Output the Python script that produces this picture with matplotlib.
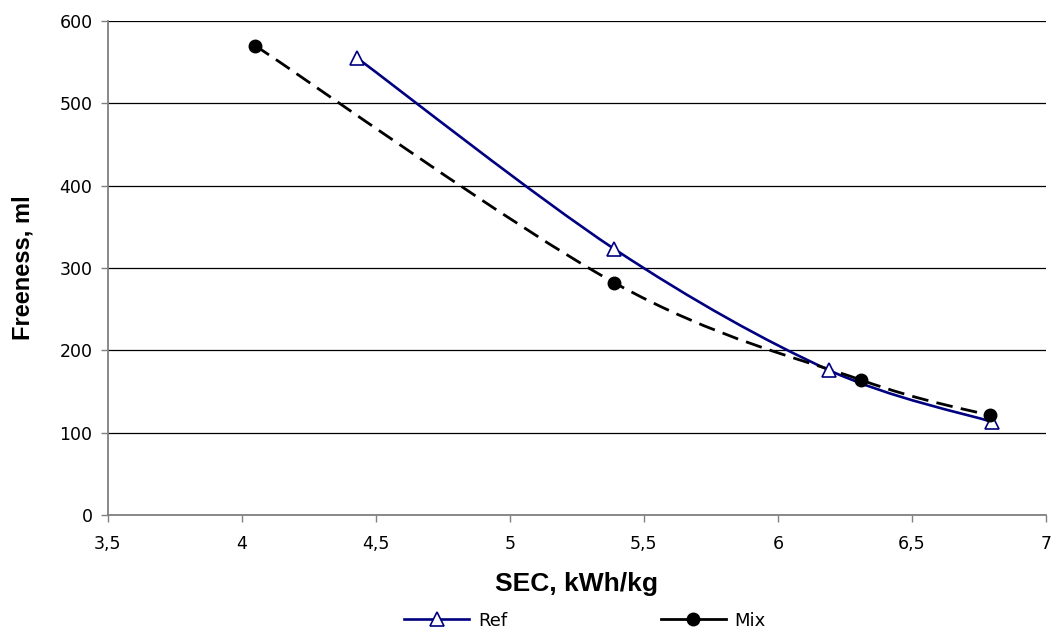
import numpy as np
import matplotlib
matplotlib.use("Agg")
import matplotlib.pyplot as plt
from matplotlib.path import Path
from matplotlib.patches import PathPatch
from matplotlib.lines import Line2D

# data
ref_sec = [4.43, 5.39, 6.19, 6.80]
ref_free = [555, 323, 176, 113]
mix_sec = [4.05, 5.39, 6.31, 6.79]
mix_free = [570, 282, 164, 121]

xticks = [3.5, 4, 4.5, 5, 5.5, 6, 6.5, 7]
xticklabels = ["3,5", "4", "4,5", "5", "5,5", "6", "6,5", "7"]
yticks = [0, 100, 200, 300, 400, 500, 600]


def smooth_path(xs, ys, t=1 / 6):
    # Excel-style smoothed line: cubic bezier through the points
    pts = np.column_stack([xs, ys]).astype(float)
    n = len(pts)
    verts = [pts[0]]
    codes = [Path.MOVETO]
    for i in range(n - 1):
        p0 = pts[i - 1] if i > 0 else pts[i]
        p1 = pts[i]
        p2 = pts[i + 1]
        p3 = pts[i + 2] if i + 2 < n else pts[i + 1]
        c1 = p1 + (p2 - p0) * t
        c2 = p2 - (p3 - p1) * t
        verts += [c1, c2, p2]
        codes += [Path.CURVE4] * 3
    return Path(verts, codes)


fig = plt.figure(figsize=(10.56, 6.32), dpi=100)
ax = fig.add_axes([0.102, 0.185, 0.8885, 0.782])

navy = "#000080"
ax.add_patch(PathPatch(smooth_path(ref_sec, ref_free), fill=False,
                       edgecolor=navy, lw=1.9, zorder=3))
ax.plot(ref_sec, ref_free, ls="none", marker="^", ms=9.5, mfc="white",
        mec=navy, mew=1.2, zorder=4)

ax.add_patch(PathPatch(smooth_path(mix_sec, mix_free), fill=False,
                       edgecolor="black", lw=2.0, linestyle=(0, (6, 3)),
                       zorder=3))
ax.plot(mix_sec, mix_free, ls="none", marker="o", ms=9, mfc="black",
        mec="black", zorder=5)

ax.set_xlim(3.5, 7)
ax.set_ylim(0, 600)
ax.set_xticks(xticks)
ax.set_xticklabels(xticklabels)
ax.set_yticks(yticks)
ax.tick_params(axis="both", direction="out", length=5, width=1,
               colors="#808080", labelcolor="black", labelsize=12.5, pad=6)
ax.tick_params(axis="x", pad=9)

for s in ["top", "right"]:
    ax.spines[s].set_visible(False)
for s in ["left", "bottom"]:
    ax.spines[s].set_color("#808080")
    ax.spines[s].set_linewidth(1.3)

ax.yaxis.grid(True, color="black", lw=0.9)
ax.set_axisbelow(True)

ax.set_xlabel("SEC, kWh/kg", fontsize=19, fontweight="bold",
              family="Liberation Sans", labelpad=14)
ax.set_ylabel("Freeness, ml", fontsize=17, fontweight="bold",
              family="Liberation Sans", labelpad=18)

handles = [
    Line2D([], [], color=navy, lw=1.9, marker="^", ms=9.5, mfc="white",
           mec=navy, mew=1.2),
    Line2D([], [], color="black", lw=2.0, marker="o", ms=9,
           mfc="black"),
]
fig.legend(handles, ["Ref", "Mix"], loc="center",
           bbox_to_anchor=(0.554, 0.018), ncol=2, frameon=False,
           fontsize=13, columnspacing=8.5, handlelength=3.6,
           handletextpad=0.5)

fig.savefig("out.png", dpi=100)
